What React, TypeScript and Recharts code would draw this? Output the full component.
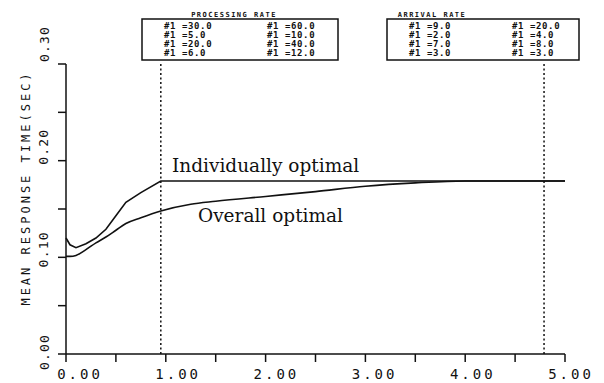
import React from 'react';
import { LineChart, Line, XAxis, YAxis, ReferenceLine, Customized } from 'recharts';

// load (x) sampled along the curves
const xs = [0, 0.04, 0.1, 0.2, 0.3, 0.4, 0.5, 0.6, 0.75, 0.95, 1.25, 1.5, 2.0, 2.5, 3.0, 3.5, 4.0, 4.5, 5.0];
const individually = [0.12, 0.113, 0.11, 0.114, 0.12, 0.129, 0.143, 0.157, 0.167, 0.179, 0.179, 0.179, 0.179, 0.179, 0.179, 0.179, 0.179, 0.179, 0.179];
const overall = [0.101, 0.101, 0.102, 0.108, 0.115, 0.121, 0.128, 0.135, 0.141, 0.148, 0.155, 0.158, 0.163, 0.168, 0.1735, 0.177, 0.179, 0.179, 0.179];

const xTicks = [0, 0.5, 1, 1.5, 2, 2.5, 3, 3.5, 4, 4.5, 5];
const yTicks = [0, 0.05, 0.1, 0.15, 0.2, 0.25, 0.3];
const cutoffs = [0.95, 4.79];

const processingLeft = ['#1 =30.0', '#1 =5.0', '#1 =20.0', '#1 =6.0'];
const processingRight = ['#1 =60.0', '#1 =10.0', '#1 =40.0', '#1 =12.0'];
const arrivalLeft = ['#1 =9.0', '#1 =2.0', '#1 =7.0', '#1 =3.0'];
const arrivalRight = ['#1 =20.0', '#1 =4.0', '#1 =8.0', '#1 =3.0'];

const data = xs.map((x, i) => ({ x, ind: individually[i], ovr: overall[i] }));

const MONO = '"DejaVu Sans Mono", monospace';

// plotter labels drift a little from the tick marks
const XTick = (props: any) => {
  const { x, y, payload } = props;
  const v = payload.value;
  if (!Number.isInteger(v)) return null;
  return (
    <text x={x + 14 - 1.6 * v} y={y + 15} textAnchor="middle" fontFamily={MONO} fontSize={14} letterSpacing={3} fill="#111">
      {v.toFixed(2)}
    </text>
  );
};

const YTick = (props: any) => {
  const { x, y, payload } = props;
  const v = payload.value;
  if (Math.abs(v * 10 - Math.round(v * 10)) > 1e-6) return null;
  const cx = x - 12;
  const cy = y - 2 - 60 * v;
  return (
    <text x={cx} y={cy} transform={`rotate(-90, ${cx}, ${cy})`} textAnchor="middle" dominantBaseline="central"
      fontFamily={MONO} fontSize={13} letterSpacing={1.2} fill="#111">
      {v.toFixed(2)}
    </text>
  );
};

const Box = ({ x, w, title, titleX, left, right, lx, rx }: any) => (
  <g>
    <text x={titleX} y={17} textAnchor="middle" fontFamily={MONO} fontSize={7} fontWeight="bold" letterSpacing={1.5} fill="#111">
      {title}
    </text>
    <rect x={x} y={19} width={w} height={41} fill="none" stroke="#111" strokeWidth={1.5} />
    {left.map((t: string, i: number) => (
      <text key={'l' + i} x={lx} y={28.5 + i * 9} fontFamily={MONO} fontSize={9} fontWeight="bold" letterSpacing={0.6} fill="#111">{t}</text>
    ))}
    {right.map((t: string, i: number) => (
      <text key={'r' + i} x={rx} y={28.5 + i * 9} fontFamily={MONO} fontSize={9} fontWeight="bold" letterSpacing={0.6} fill="#111">{t}</text>
    ))}
  </g>
);

const Annotations = () => (
  <g>
    <text x={26} y={188} transform="rotate(-90, 26, 188)" textAnchor="middle" dominantBaseline="central"
      fontFamily={MONO} fontSize={12} letterSpacing={3} fill="#111">
      MEAN RESPONSE TIME(SEC)
    </text>
    <Box x={142} w={196} title="PROCESSING RATE" titleX={234} left={processingLeft} right={processingRight} lx={164} rx={267} />
    <Box x={387} w={192} title="ARRIVAL RATE" titleX={432} left={arrivalLeft} right={arrivalRight} lx={409} rx={512} />
    <text x={172} y={172} fontFamily='"DejaVu Serif", serif' fontSize={18.5} fill="#111">Individually optimal</text>
    <text x={198} y={222} fontFamily='"DejaVu Serif", serif' fontSize={18.5} fill="#111">Overall optimal</text>
  </g>
);

export default function App() {
  return (
    <div style={{ position: 'absolute', left: 0, top: 0, background: '#fff' }}>
      <LineChart width={604} height={383} data={data} margin={{ top: 64, right: 39, left: 0, bottom: 0 }}>
        <XAxis type="number" dataKey="x" domain={[0, 5]} ticks={xTicks} tick={<XTick />} tickSize={8}
          axisLine={{ stroke: '#111', strokeWidth: 1.5 }} tickLine={{ stroke: '#111', strokeWidth: 1.5 }} height={29} />
        <YAxis type="number" domain={[0, 0.3]} ticks={yTicks} tick={<YTick />} tickSize={8} width={66}
          axisLine={{ stroke: '#111', strokeWidth: 1.5 }} tickLine={{ stroke: '#111', strokeWidth: 1.5 }} />
        {cutoffs.map((c) => (
          <ReferenceLine key={c} x={c} stroke="#111" strokeWidth={1.5} strokeDasharray="2 2.5" />
        ))}
        <Line type="linear" dataKey="ind" stroke="#111" strokeWidth={1.6} dot={false} isAnimationActive={false} />
        <Line type="monotone" dataKey="ovr" stroke="#111" strokeWidth={1.6} dot={false} isAnimationActive={false} />
        <Customized component={Annotations} />
      </LineChart>
    </div>
  );
}
